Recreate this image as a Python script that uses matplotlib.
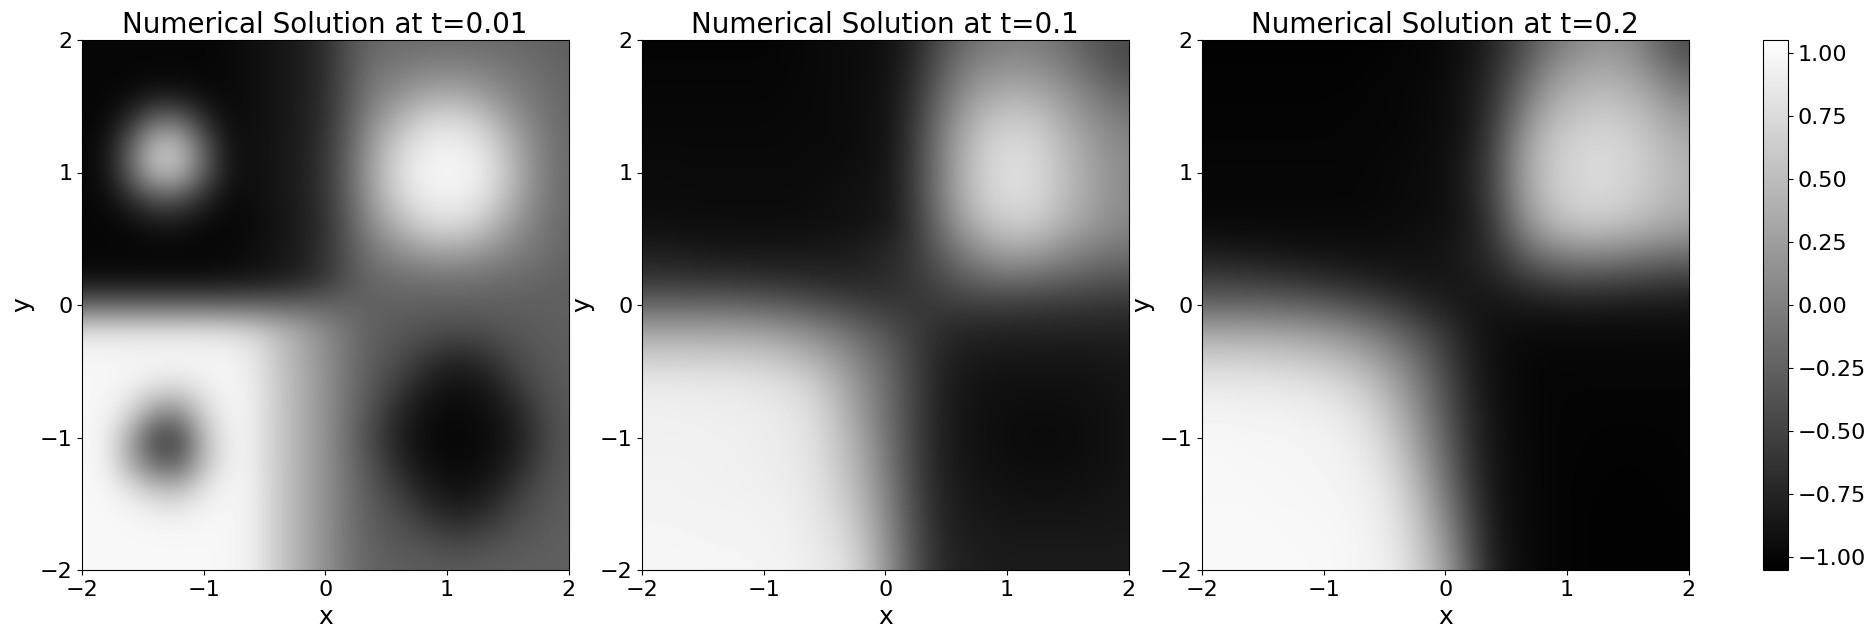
import numpy as np
import matplotlib
matplotlib.use('Agg')
import matplotlib.pyplot as plt

# values on a 0.2 grid, first row is y=2, first column x=-2
u_t001 = [
    [-1.0,-1.0,-1.0,-1.0,-1.0,-1.0,-.98,-.93,-.88,-.82,-.66,-.38,-.2,-.17,-.16,-.16,-.16,-.18,-.2,-.24,-.27],
    [-1.0,-1.0,-1.0,-1.0,-1.0,-1.0,-.98,-.93,-.88,-.82,-.66,-.36,-.12,-.05,.0,.02,.0,-.05,-.12,-.18,-.24],
    [-1.0,-1.0,-.98,-.9,-.9,-.97,-.98,-.93,-.88,-.82,-.66,-.33,-.02,.12,.28,.33,.28,.12,-.02,-.13,-.22],
    [-1.0,-.99,-.68,-.18,-.2,-.68,-.97,-.93,-.88,-.81,-.65,-.28,.12,.42,.66,.75,.66,.42,.12,-.08,-.2],
    [-1.0,-.9,-.25,.55,.52,-.25,-.9,-.93,-.88,-.8,-.62,-.22,.28,.66,.88,.93,.88,.66,.28,-.03,-.18],
    [-1.0,-.9,-.22,.5,.47,-.25,-.88,-.93,-.88,-.8,-.6,-.2,.33,.75,.95,.97,.95,.75,.33,-.02,-.17],
    [-1.0,-.97,-.7,-.38,-.4,-.72,-.96,-.95,-.88,-.8,-.62,-.22,.28,.66,.88,.93,.88,.66,.28,-.03,-.18],
    [-1.0,-1.0,-.98,-.9,-.9,-.98,-1.0,-.97,-.9,-.82,-.65,-.28,.12,.42,.66,.75,.66,.42,.12,-.08,-.2],
    [-1.0,-1.0,-1.0,-1.0,-1.0,-1.0,-.98,-.94,-.88,-.8,-.62,-.33,-.05,.1,.24,.28,.24,.1,-.02,-.13,-.22],
    [-.95,-.95,-.95,-.95,-.95,-.95,-.93,-.9,-.86,-.78,-.62,-.36,-.2,-.14,-.12,-.1,-.12,-.14,-.18,-.22,-.25],
    [-.22,-.22,-.22,-.22,-.22,-.22,-.22,-.22,-.22,-.22,-.22,-.24,-.25,-.26,-.27,-.27,-.27,-.27,-.27,-.27,-.27],
    [.82,.82,.82,.82,.82,.82,.8,.72,.52,.32,.1,-.11,-.27,-.33,-.38,-.42,-.42,-.38,-.33,-.29,-.27],
    [.98,.98,.98,.98,.98,.98,.96,.87,.6,.36,.12,-.12,-.3,-.42,-.58,-.72,-.72,-.58,-.42,-.33,-.28],
    [.98,.98,.94,.85,.8,.9,.98,.9,.62,.38,.14,-.13,-.35,-.55,-.78,-.9,-.9,-.78,-.55,-.38,-.3],
    [.99,.96,.75,.2,.15,.7,.95,.92,.62,.38,.14,-.15,-.42,-.72,-.9,-.97,-.96,-.9,-.72,-.46,-.32],
    [.99,.93,.3,-.5,-.5,.45,.93,.92,.62,.38,.14,-.18,-.5,-.78,-.95,-1.0,-.99,-.93,-.78,-.5,-.33],
    [.99,.94,.35,-.2,-.25,.48,.93,.92,.62,.38,.14,-.15,-.42,-.72,-.9,-.97,-.96,-.9,-.72,-.46,-.32],
    [.99,.98,.85,.6,.55,.85,.97,.93,.63,.38,.14,-.13,-.35,-.55,-.78,-.9,-.9,-.78,-.55,-.38,-.3],
    [.99,.99,.98,.95,.94,.97,.98,.93,.63,.38,.14,-.12,-.3,-.42,-.58,-.72,-.72,-.58,-.42,-.33,-.28],
    [.99,.99,.99,.99,.99,.99,.98,.93,.63,.38,.14,-.11,-.27,-.33,-.38,-.45,-.45,-.38,-.33,-.29,-.27],
    [.99,.99,.99,.99,.99,.99,.98,.93,.63,.38,.14,-.1,-.24,-.27,-.28,-.3,-.3,-.28,-.27,-.27,-.27],
]
u_t01 = [
    [-1.02,-1.02,-1.02,-1.02,-1.02,-1.02,-1.0,-.98,-.97,-.95,-.92,-.78,-.5,-.25,-.08,-.02,-.02,-.1,-.25,-.38,-.45],
    [-1.01,-1.01,-1.01,-1.01,-1.01,-1.01,-1.0,-.98,-.97,-.95,-.92,-.74,-.42,-.1,.08,.14,.13,.03,-.12,-.3,-.42],
    [-1.0,-1.0,-1.0,-1.0,-1.0,-1.0,-.99,-.98,-.97,-.94,-.91,-.7,-.32,.05,.28,.38,.36,.24,.06,-.1,-.23],
    [-.99,-.99,-.99,-.99,-.99,-.99,-.98,-.98,-.97,-.94,-.9,-.66,-.22,.2,.48,.6,.58,.42,.22,.05,-.05],
    [-.98,-.98,-.98,-.98,-.98,-.98,-.98,-.97,-.97,-.94,-.9,-.63,-.16,.3,.62,.74,.72,.55,.34,.16,.05],
    [-.96,-.96,-.97,-.97,-.97,-.97,-.97,-.96,-.95,-.92,-.89,-.62,-.15,.32,.65,.78,.76,.58,.38,.2,.08],
    [-.96,-.96,-.96,-.96,-.96,-.96,-.96,-.95,-.93,-.9,-.88,-.62,-.16,.3,.62,.75,.74,.57,.37,.2,.08],
    [-.93,-.93,-.93,-.94,-.94,-.94,-.94,-.93,-.92,-.9,-.86,-.65,-.25,.17,.45,.6,.6,.45,.28,.14,.04],
    [-.8,-.82,-.84,-.85,-.86,-.86,-.86,-.85,-.84,-.8,-.73,-.62,-.35,-.08,.15,.28,.26,.14,.02,-.07,-.12],
    [-.62,-.62,-.63,-.64,-.65,-.67,-.69,-.71,-.74,-.74,-.7,-.62,-.48,-.32,-.2,-.14,-.16,-.22,-.28,-.33,-.36],
    [-.2,-.2,-.2,-.2,-.22,-.25,-.3,-.37,-.45,-.53,-.58,-.6,-.58,-.55,-.55,-.56,-.57,-.58,-.6,-.62,-.63],
    [.3,.3,.3,.3,.28,.25,.18,.08,-.05,-.2,-.36,-.52,-.66,-.74,-.76,-.76,-.77,-.77,-.78,-.78,-.78],
    [.65,.65,.65,.64,.63,.6,.52,.4,.22,.0,-.22,-.47,-.7,-.82,-.85,-.87,-.87,-.87,-.87,-.86,-.85],
    [.88,.88,.87,.86,.85,.82,.77,.65,.42,.14,-.14,-.45,-.72,-.85,-.9,-.92,-.92,-.92,-.92,-.9,-.88],
    [.92,.92,.91,.91,.9,.88,.85,.76,.52,.2,-.12,-.44,-.73,-.87,-.92,-.94,-.95,-.95,-.94,-.92,-.89],
    [.93,.93,.93,.92,.92,.9,.87,.8,.58,.3,-.08,-.43,-.73,-.87,-.92,-.95,-.96,-.96,-.95,-.92,-.89],
    [.94,.94,.94,.93,.92,.91,.88,.82,.62,.36,-.02,-.42,-.72,-.86,-.91,-.94,-.95,-.95,-.94,-.92,-.89],
    [.95,.95,.94,.94,.93,.92,.9,.84,.68,.42,.04,-.38,-.71,-.84,-.89,-.91,-.92,-.92,-.91,-.9,-.88],
    [.96,.96,.95,.95,.95,.94,.92,.86,.74,.5,.1,-.34,-.68,-.82,-.86,-.88,-.88,-.88,-.88,-.87,-.86],
    [.97,.97,.97,.96,.96,.95,.93,.88,.8,.58,.16,-.3,-.66,-.8,-.83,-.85,-.85,-.85,-.85,-.85,-.85],
    [.98,.98,.97,.97,.97,.96,.95,.9,.84,.64,.2,-.27,-.64,-.78,-.81,-.83,-.83,-.83,-.83,-.83,-.83],
]
u_t02 = [
    [-1.03,-1.03,-1.03,-1.03,-1.03,-1.03,-1.03,-1.03,-1.02,-1.0,-.97,-.9,-.72,-.48,-.2,.0,.13,.15,.0,-.28,-.45],
    [-1.03,-1.03,-1.03,-1.03,-1.03,-1.03,-1.03,-1.02,-1.01,-1.0,-.97,-.88,-.68,-.38,-.02,.2,.3,.3,.15,-.08,-.28],
    [-1.02,-1.02,-1.02,-1.02,-1.02,-1.02,-1.02,-1.01,-1.0,-.98,-.95,-.86,-.62,-.22,.18,.38,.47,.48,.36,.16,.0],
    [-1.02,-1.02,-1.02,-1.02,-1.02,-1.02,-1.01,-1.01,-1.0,-.98,-.95,-.85,-.55,-.05,.36,.55,.62,.62,.52,.36,.22],
    [-1.01,-1.01,-1.01,-1.01,-1.01,-1.01,-1.01,-1.0,-.99,-.97,-.94,-.82,-.48,.1,.5,.66,.72,.72,.62,.48,.36],
    [-1.0,-1.0,-1.0,-1.0,-1.0,-1.0,-1.0,-.99,-.98,-.96,-.93,-.78,-.45,.15,.52,.68,.74,.72,.64,.52,.42],
    [-1.0,-1.0,-1.0,-1.0,-1.0,-1.0,-1.0,-.99,-.98,-.96,-.93,-.8,-.48,.1,.48,.66,.72,.7,.6,.48,.4],
    [-.97,-.97,-.97,-.97,-.97,-.97,-.97,-.97,-.96,-.94,-.92,-.84,-.55,-.05,.32,.5,.55,.52,.44,.34,.28],
    [-.82,-.84,-.86,-.88,-.9,-.91,-.92,-.92,-.92,-.91,-.88,-.8,-.65,-.32,-.05,.07,.1,.07,.0,-.06,-.1],
    [-.55,-.56,-.58,-.61,-.65,-.7,-.75,-.8,-.84,-.87,-.87,-.85,-.76,-.62,-.5,-.42,-.42,-.44,-.48,-.52,-.55],
    [-.2,-.2,-.2,-.22,-.25,-.3,-.37,-.46,-.58,-.7,-.8,-.87,-.88,-.86,-.84,-.82,-.82,-.83,-.84,-.85,-.87],
    [.3,.3,.29,.27,.24,.18,.08,-.05,-.22,-.42,-.62,-.82,-.92,-.95,-.96,-.96,-.96,-.96,-.96,-.96,-.96],
    [.65,.65,.64,.62,.58,.52,.42,.28,.06,-.2,-.5,-.78,-.93,-.98,-1.0,-1.0,-1.0,-1.0,-1.0,-1.0,-1.0],
    [.86,.86,.85,.84,.82,.77,.68,.52,.27,-.05,-.42,-.74,-.92,-.98,-1.0,-1.01,-1.01,-1.01,-1.01,-1.01,-1.01],
    [.95,.95,.94,.93,.92,.89,.83,.68,.42,.06,-.33,-.7,-.9,-.98,-1.0,-1.02,-1.02,-1.02,-1.02,-1.02,-1.02],
    [.98,.98,.97,.97,.96,.94,.9,.78,.55,.16,-.24,-.67,-.89,-.97,-1.0,-1.02,-1.02,-1.02,-1.02,-1.02,-1.02],
    [.99,.99,.98,.98,.97,.96,.93,.85,.65,.28,-.16,-.62,-.88,-.97,-1.0,-1.02,-1.02,-1.03,-1.03,-1.02,-1.02],
    [.99,.99,.99,.98,.98,.97,.95,.9,.74,.4,-.06,-.54,-.87,-.96,-1.0,-1.02,-1.03,-1.03,-1.03,-1.03,-1.02],
    [1.0,1.0,1.0,.99,.99,.98,.97,.92,.8,.5,.06,-.46,-.85,-.96,-1.0,-1.02,-1.03,-1.03,-1.03,-1.03,-1.03],
    [1.0,1.0,1.0,1.0,.99,.99,.98,.94,.84,.57,.18,-.38,-.83,-.95,-1.0,-1.02,-1.03,-1.03,-1.03,-1.03,-1.03],
    [1.0,1.0,1.0,1.0,1.0,.99,.98,.95,.87,.62,.28,-.3,-.8,-.94,-1.0,-1.02,-1.03,-1.03,-1.03,-1.03,-1.03],
]
fields = [u_t001, u_t01, u_t02]
times = ['0.01', '0.1', '0.2']
ticks = [-2, -1, 0, 1, 2]
cbar_ticks = [-1.0, -0.75, -0.5, -0.25, 0.0, 0.25, 0.5, 0.75, 1.0]
vmin, vmax = -1.053, 1.052

W, H = 1875, 638
fig = plt.figure(figsize=(W/100, H/100), dpi=100)

def place(left, right, top, bottom):
    # pixel box to figure fractions
    return [left/W, 1-bottom/H, (right-left)/W, (bottom-top)/H]

lefts = [82, 642, 1202]
half = 0.1  # half a grid step, so grid points sit at cell centres

for k in range(3):
    ax = fig.add_axes(place(lefts[k], lefts[k]+486.5, 40, 570))
    im = ax.imshow(np.array(fields[k]), cmap='gray', vmin=vmin, vmax=vmax,
                   extent=[-2-half, 2+half, -2-half, 2+half],
                   interpolation='bicubic', aspect='auto')
    ax.set_xlim(-2, 2)
    ax.set_ylim(-2, 2)
    ax.set_xticks(ticks)
    ax.set_yticks(ticks)
    ax.tick_params(labelsize=16)
    ax.set_xlabel('x', fontsize=18)
    ax.set_ylabel('y', fontsize=18)
    ax.set_title('Numerical Solution at t=' + times[k], fontsize=20, pad=5)

cax = fig.add_axes(place(1763, 1788, 40, 570))
cb = fig.colorbar(im, cax=cax)
cb.set_ticks(cbar_ticks)
cb.ax.tick_params(labelsize=16)

fig.savefig('out.png', dpi=100)
